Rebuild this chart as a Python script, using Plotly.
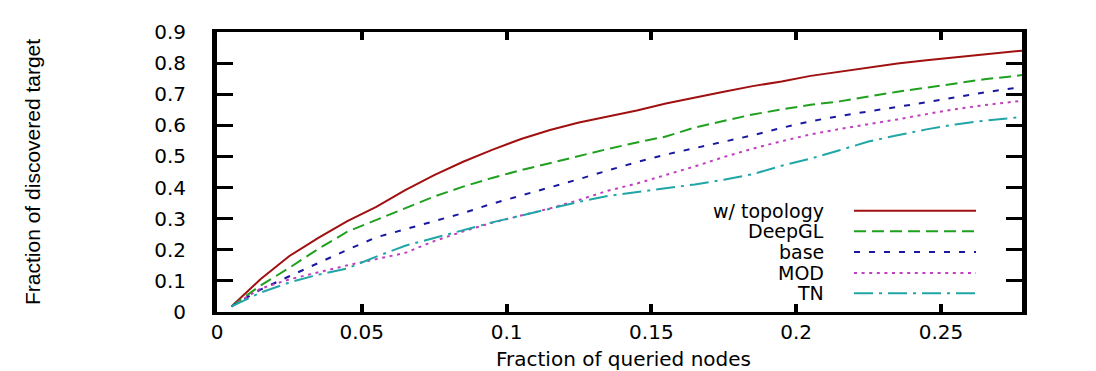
import plotly.graph_objects as go

# ---------------- data ----------------
x_frac = [0.005, 0.015, 0.025, 0.035, 0.045, 0.055, 0.065, 0.075, 0.085, 0.095,
          0.105, 0.115, 0.125, 0.135, 0.145, 0.155, 0.165, 0.175, 0.185, 0.195,
          0.205, 0.215, 0.225, 0.235, 0.245, 0.255, 0.265, 0.275, 0.278]

series_names = ["w/ topology", "DeepGL", "base", "MOD", "TN"]

y_topology = [0.018, 0.105, 0.180, 0.238, 0.292, 0.338, 0.392, 0.440, 0.483, 0.521,
              0.556, 0.585, 0.609, 0.628, 0.648, 0.670, 0.690, 0.708, 0.726, 0.741,
              0.759, 0.773, 0.786, 0.799, 0.809, 0.819, 0.829, 0.837, 0.840]

y_deepgl = [0.018, 0.085, 0.142, 0.203, 0.258, 0.296, 0.334, 0.371, 0.403, 0.431,
            0.456, 0.479, 0.501, 0.524, 0.545, 0.564, 0.593, 0.615, 0.635, 0.651,
            0.666, 0.677, 0.693, 0.708, 0.721, 0.735, 0.748, 0.758, 0.762]

y_base = [0.018, 0.072, 0.115, 0.158, 0.200, 0.240, 0.266, 0.290, 0.318, 0.348,
          0.374, 0.401, 0.427, 0.455, 0.482, 0.506, 0.526, 0.546, 0.568, 0.592,
          0.613, 0.630, 0.644, 0.660, 0.674, 0.690, 0.706, 0.719, 0.722]

y_mod = [0.018, 0.075, 0.105, 0.128, 0.150, 0.170, 0.190, 0.228, 0.259, 0.287,
         0.310, 0.333, 0.360, 0.390, 0.413, 0.440, 0.468, 0.498, 0.525, 0.549,
         0.571, 0.588, 0.603, 0.619, 0.636, 0.652, 0.665, 0.676, 0.679]

y_tn = [0.018, 0.062, 0.095, 0.120, 0.140, 0.178, 0.213, 0.238, 0.265, 0.288,
        0.310, 0.332, 0.354, 0.373, 0.385, 0.397, 0.410, 0.425, 0.443, 0.470,
        0.493, 0.520, 0.548, 0.568, 0.587, 0.603, 0.615, 0.624, 0.627]

x_tickvals = [0, 0.05, 0.1, 0.15, 0.2, 0.25]
x_ticktext = ["0", "0.05", "0.1", "0.15", "0.2", "0.25"]
y_tickvals = [0, 0.1, 0.2, 0.3, 0.4, 0.5, 0.6, 0.7, 0.8, 0.9]
y_ticktext = ["0", "0.1", "0.2", "0.3", "0.4", "0.5", "0.6", "0.7", "0.8", "0.9"]

x_title = "Fraction of queried nodes"
y_title = "Fraction of discovered target"

# ---------------- styles ----------------
colors = ["#a01010", "#1fa01f", "#1818a0", "#c040c0", "#20a6a6"]
dashes = ["solid", "12px,6px", "6px,9px", "3px,4.6px", "19px,6px,3px,6px"]

W, H = 1096, 371
L, R, T, B = 209, 82, 24, 67
PW, PH = W - L - R, H - T - B


def px(x):
    return (x - L) / PW


def py(y):
    return (H - B - y) / PH


fig = go.Figure()
all_y = [y_topology, y_deepgl, y_base, y_mod, y_tn]
for name, ys, c, d in zip(series_names, all_y, colors, dashes):
    fig.add_trace(go.Scatter(x=x_frac, y=ys, mode="lines", name=name,
                             line=dict(color=c, width=2, dash=d),
                             showlegend=False, hoverinfo="x+y+name"))

tick_font = dict(family="DejaVu Sans", size=20, color="black")

fig.update_layout(
    width=W, height=H,
    margin=dict(l=L, r=R, t=T, b=B, pad=0),
    paper_bgcolor="white", plot_bgcolor="white",
    showlegend=False,
    xaxis=dict(range=[0, 0.278], tickmode="array", tickvals=x_tickvals,
               ticktext=x_ticktext, ticks="inside", ticklen=8, tickwidth=4,
               tickcolor="black", showline=True, linewidth=3, linecolor="black",
               mirror="ticks", showgrid=False, zeroline=False,
               tickfont=tick_font, ticklabelstandoff=0),
    yaxis=dict(range=[0, 0.9], tickmode="array", tickvals=y_tickvals,
               ticktext=y_ticktext, ticks="inside", ticklen=16, tickwidth=3,
               tickcolor="black", showline=True, linewidth=5, linecolor="black",
               mirror="ticks", showgrid=False, zeroline=False,
               tickfont=tick_font, ticklabelstandoff=22),
)

annotations = [
    dict(text=x_title, xref="paper", yref="paper", x=px(615), y=py(351),
         xanchor="center", yanchor="middle", showarrow=False,
         font=dict(family="DejaVu Sans", size=20, color="black")),
    dict(text=y_title, xref="paper", yref="paper", x=px(24), y=py(164),
         xanchor="center", yanchor="middle", showarrow=False, textangle=-90,
         font=dict(family="Liberation Sans", size=21, color="black")),
]

# legend (text on the left of the sample line, as in the reference)
legend_rows = [202.7, 223.3, 244.0, 265.0, 285.3]
shapes = []
for name, c, d, yy in zip(series_names, colors, dashes, legend_rows):
    annotations.append(dict(text=name, xref="paper", yref="paper", x=px(818),
                            y=py(yy), xanchor="right", yanchor="middle",
                            showarrow=False,
                            font=dict(family="DejaVu Sans", size=19, color="black")))
    shapes.append(dict(type="line", xref="paper", yref="paper",
                       x0=px(846), x1=px(968), y0=py(yy), y1=py(yy),
                       line=dict(color=c, width=2, dash=d)))

fig.update_layout(annotations=annotations, shapes=shapes)

fig.write_html("out.html")
